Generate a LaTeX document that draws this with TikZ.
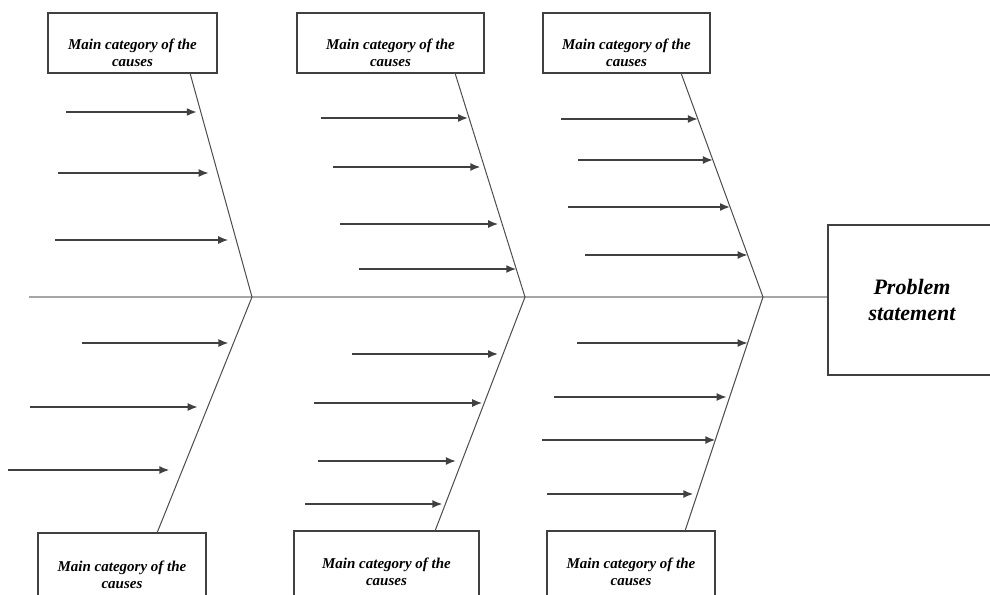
\documentclass[tikz,border=0pt]{standalone}
\usepackage{fontspec}
\setmainfont{Liberation Serif}
\usetikzlibrary{arrows.meta,calc}
\tikzset{
	catbox/.style={draw=black!75,line width=1.2pt,inner sep=0pt,minimum height=60pt},
	cattext/.style={align=center,font=\bfseries\itshape\fontsize{15}{17}\selectfont},
	problembox/.style={draw=black!75,line width=1.2pt,inner sep=0pt,minimum width=168pt,minimum height=150pt,align=center,font=\bfseries\itshape\fontsize{22}{26}\selectfont},
	spine/.style={draw=black!35,line width=1.8pt},
	bone/.style={draw=black!70,line width=1pt},
	cause/.style={draw=black!75,line width=1.6pt,-{Latex[length=10pt,width=8pt]}},
}
\begin{document}
\begin{tikzpicture}[x=1pt,y=-1pt]
	\useasboundingbox (0,0) rectangle (990,594);
	\clip (0,0) rectangle (990,594);
	\node[catbox,minimum width=169pt] (top1) at (132.5,43) {};
	\node[catbox,minimum width=187pt] (top2) at (390.5,43) {};
	\node[catbox,minimum width=167pt] (top3) at (626.5,43) {};
	\node[catbox,minimum width=168pt,minimum height=70pt] (bot1) at (122,568) {};
	\node[catbox,minimum width=185pt,minimum height=70pt] (bot2) at (386.5,566) {};
	\node[catbox,minimum width=168pt,minimum height=70pt] (bot3) at (631,566) {};
	\node[cattext] (top1 text) at ($(top1.center)+(0,10)$) {Main category of the\\causes};
	\node[cattext] (top2 text) at ($(top2.center)+(0,10)$) {Main category of the\\causes};
	\node[cattext] (top3 text) at ($(top3.center)+(0,10)$) {Main category of the\\causes};
	\node[cattext] (bot1 text) at ($(bot1.center)+(0,6.5)$) {Main category of the\\causes};
	\node[cattext] (bot2 text) at ($(bot2.center)+(0,5.5)$) {Main category of the\\causes};
	\node[cattext] (bot3 text) at ($(bot3.center)+(0,5.5)$) {Main category of the\\causes};
	\node[problembox] (problem) at (912,300) {Problem\\statement};
	\coordinate (tail) at (29,297);
	\coordinate (b1 top) at (190,73);
	\coordinate (b1 head) at (252,297);
	\coordinate (b1 bot) at (157,533);
	\coordinate (b2 top) at (455,73);
	\coordinate (b2 head) at (525,297);
	\coordinate (b2 bot) at (435,531);
	\coordinate (b3 top) at (681,73);
	\coordinate (b3 head) at (763,297);
	\coordinate (b3 bot) at (685,531);
	\draw[spine] (tail) -- (tail -| problem.west);
	\draw[bone] (b1 top) -- (b1 head) -- (b1 bot);
	\draw[bone] (b2 top) -- (b2 head) -- (b2 bot);
	\draw[bone] (b3 top) -- (b3 head) -- (b3 bot);
	\foreach \y/\xs/\gap [count=\i] in {112/66/4,173/58/9,240/55/8}{
		\coordinate (c1u\i) at (\xs,\y);
		\draw[cause,shorten >=\gap pt] (c1u\i) -- ($(b1 top)!{(\y-73)/224}!(b1 head)$);
	}
	\foreach \y/\xs/\gap [count=\i] in {343/82/5,407/30/10,470/8/13}{
		\coordinate (c1d\i) at (\xs,\y);
		\draw[cause,shorten >=\gap pt] (c1d\i) -- ($(b1 head)!{(\y-297)/236}!(b1 bot)$);
	}
	\foreach \y/\xs/\gap [count=\i] in {118/321/1,167/333/4,224/340/4,269/359/0}{
		\coordinate (c2u\i) at (\xs,\y);
		\draw[cause,shorten >=\gap pt] (c2u\i) -- ($(b2 top)!{(\y-73)/224}!(b2 head)$);
	}
	\foreach \y/\xs/\gap [count=\i] in {354/352/5,403/314/2,461/318/6,504/305/3}{
		\coordinate (c2d\i) at (\xs,\y);
		\draw[cause,shorten >=\gap pt] (c2d\i) -- ($(b2 head)!{(\y-297)/234}!(b2 bot)$);
	}
	\foreach \y/\xs/\gap [count=\i] in {119/561/0,160/578/0,207/568/0,255/585/0}{
		\coordinate (c3u\i) at (\xs,\y);
		\draw[cause,shorten >=\gap pt] (c3u\i) -- ($(b3 top)!{(\y-73)/224}!(b3 head)$);
	}
	\foreach \y/\xs/\gap [count=\i] in {343/577/0,397/554/3,440/542/0,494/547/4}{
		\coordinate (c3d\i) at (\xs,\y);
		\draw[cause,shorten >=\gap pt] (c3d\i) -- ($(b3 head)!{(\y-297)/234}!(b3 bot)$);
	}
\end{tikzpicture}
\end{document}
